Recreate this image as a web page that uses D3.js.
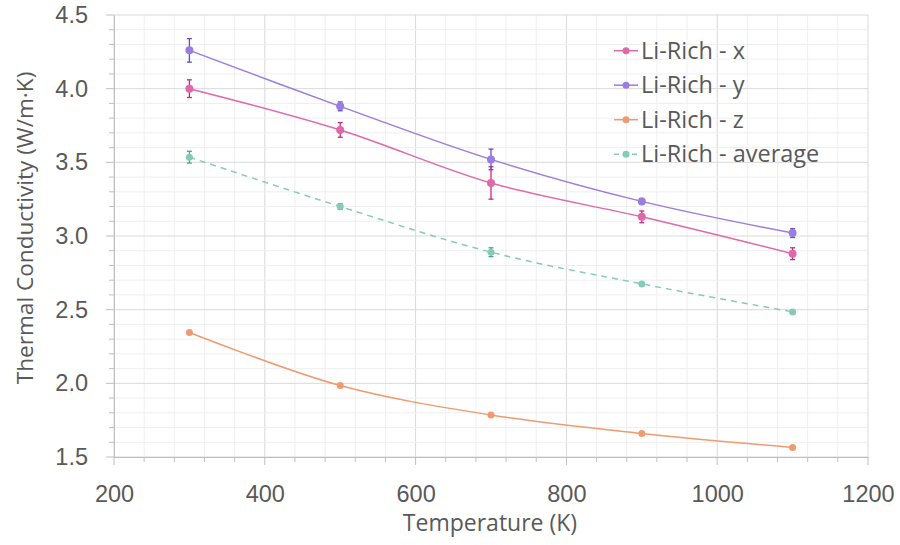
<!DOCTYPE html>
<meta charset="utf-8">
<style>
body { margin: 0; background: #fff; }
svg { font-family: "Open Sans", sans-serif; }
.tick text { fill: #595959; font-size: 23.5px; }
</style>
<body>
<script src="https://cdn.jsdelivr.net/npm/d3@7"></script>
<script>

var temps = [300, 500, 700, 900, 1100];
var seriesNames = ["Li-Rich - x", "Li-Rich - y", "Li-Rich - z", "Li-Rich - average"];
var xVals = [4.00, 3.72, 3.36, 3.13, 2.88];
var xErr  = [0.06, 0.05, 0.11, 0.04, 0.04];
var yVals = [4.26, 3.88, 3.52, 3.235, 3.02];
var yErr  = [0.08, 0.03, 0.07, 0.02, 0.03];
var zVals = [2.345, 1.985, 1.785, 1.66, 1.565];
var zErr  = [0, 0, 0, 0, 0];
var avgVals = [3.535, 3.20, 2.89, 2.675, 2.485];
var avgErr  = [0.04, 0.02, 0.03, 0.01, 0.01];
var xTicks = [200, 400, 600, 800, 1000, 1200];
var yTicks = [1.5, 2.0, 2.5, 3.0, 3.5, 4.0, 4.5];

var series = [
  {name: seriesNames[0], vals: xVals, err: xErr, line: "#e068a8", bar: "#c9287f", r: 4, dash: null},
  {name: seriesNames[1], vals: yVals, err: yErr, line: "#9a7de0", bar: "#6a48c8", r: 4, dash: null},
  {name: seriesNames[2], vals: zVals, err: zErr, line: "#f09a70", bar: "#e07a48", r: 3.5, dash: null},
  {name: seriesNames[3], vals: avgVals, err: avgErr, line: "#86cbb8", bar: "#4aa58b", r: 3.5, dash: "6,5"}
];

var svg = d3.select("body").append("svg")
    .attr("width", 900)
    .attr("height", 545);

var x = d3.scaleLinear().domain([200, 1200]).range([114, 868]);
var y = d3.scaleLinear().domain([1.5, 4.5]).range([457, 15]);

// gridlines: minor + major
var g = svg.append("g");
d3.range(200, 1201, 40).forEach(function(v) {
  g.append("line").attr("x1", x(v)).attr("x2", x(v)).attr("y1", y(1.5)).attr("y2", y(4.5))
    .attr("stroke", v % 200 == 0 ? "#d9d9d9" : "#efefef").attr("stroke-width", 1);
});
d3.range(15, 46).forEach(function(i) {
  var v = i / 10;
  g.append("line").attr("x1", x(200)).attr("x2", x(1200)).attr("y1", y(v)).attr("y2", y(v))
    .attr("stroke", i % 5 == 0 ? "#d9d9d9" : "#efefef").attr("stroke-width", 1);
});

// axis ticks (minor + major), outward
d3.range(200, 1201, 40).forEach(function(v) {
  svg.append("line").attr("x1", x(v)).attr("x2", x(v)).attr("y1", y(1.5))
    .attr("y2", y(1.5) + (v % 200 == 0 ? 8 : 5)).attr("stroke", "#bfbfbf");
});
d3.range(15, 46).forEach(function(i) {
  svg.append("line").attr("x1", x(200) - (i % 5 == 0 ? 8 : 5)).attr("x2", x(200))
    .attr("y1", y(i / 10)).attr("y2", y(i / 10)).attr("stroke", "#bfbfbf");
});

svg.append("g")
    .attr("transform", "translate(0," + y(1.5) + ")")
    .call(d3.axisBottom(x).tickValues(xTicks).tickFormat(d3.format("d")).tickSize(0).tickPadding(28))
    .call(function(s) { s.select(".domain").attr("stroke", "#bfbfbf"); });

svg.append("g")
    .attr("transform", "translate(" + x(200) + ",0)")
    .call(d3.axisLeft(y).tickValues(yTicks).tickFormat(d3.format(".1f")).tickSize(0).tickPadding(26))
    .call(function(s) { s.select(".domain").attr("stroke", "#bfbfbf"); });

svg.append("text")
    .attr("x", 490).attr("y", 531)
    .attr("text-anchor", "middle")
    .attr("fill", "#595959").attr("font-size", 23)
    .text("Temperature (K)");

svg.append("text")
    .attr("transform", "translate(33,228) rotate(-90)")
    .attr("text-anchor", "middle")
    .attr("fill", "#595959").attr("font-size", 22.6)
    .text("Thermal Conductivity (W/m·K)");

var line = d3.line()
    .x(function(d, i) { return x(temps[i]); })
    .y(function(d) { return y(d); })
    .curve(d3.curveCatmullRom.alpha(0.5));

series.forEach(function(s) {
  svg.append("path")
      .attr("d", line(s.vals))
      .attr("fill", "none")
      .attr("stroke", s.line)
      .attr("stroke-width", 1.5)
      .attr("stroke-dasharray", s.dash);

  var eb = svg.append("g").attr("stroke", s.bar).attr("stroke-width", 1.3);
  s.vals.forEach(function(v, i) {
    if (!s.err[i]) return;
    var cx = x(temps[i]);
    eb.append("line").attr("x1", cx).attr("x2", cx).attr("y1", y(v - s.err[i])).attr("y2", y(v + s.err[i]));
    eb.append("line").attr("x1", cx - 2.5).attr("x2", cx + 2.5).attr("y1", y(v - s.err[i])).attr("y2", y(v - s.err[i]));
    eb.append("line").attr("x1", cx - 2.5).attr("x2", cx + 2.5).attr("y1", y(v + s.err[i])).attr("y2", y(v + s.err[i]));
  });

  svg.selectAll(null)
      .data(s.vals)
    .enter().append("circle")
      .attr("cx", function(d, i) { return x(temps[i]); })
      .attr("cy", function(d) { return y(d); })
      .attr("r", s.r)
      .attr("fill", s.line);
});

// legend
var legend = svg.append("g");
series.forEach(function(s, i) {
  var ly = 50.7 + i * 34.5;
  legend.append("line").attr("x1", 614).attr("x2", 638).attr("y1", ly).attr("y2", ly)
    .attr("stroke", s.line).attr("stroke-width", 1.5).attr("stroke-dasharray", s.dash ? "5,4" : null);
  legend.append("circle").attr("cx", 626).attr("cy", ly).attr("r", 3.5).attr("fill", s.line);
  legend.append("text").attr("x", 641).attr("y", ly + 8)
    .attr("fill", "#595959").attr("font-size", 23.5)
    .text(s.name);
});

</script>
</body>
